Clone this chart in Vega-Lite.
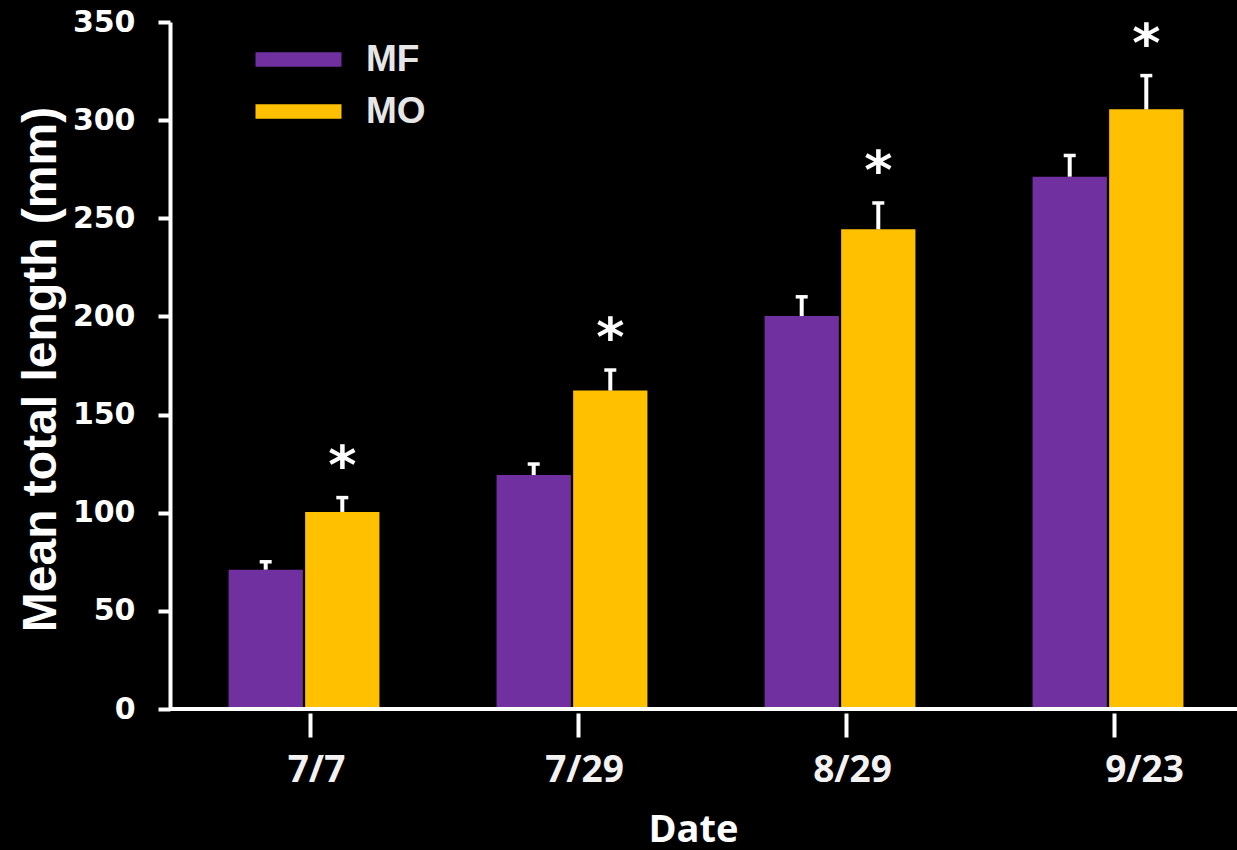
{
  "$schema": "https://vega.github.io/schema/vega-lite/v6.json",
  "width": 1072,
  "height": 687,
  "autosize": {"type": "none"},
  "padding": {"left": 170, "top": 22, "right": 0, "bottom": 141},
  "background": "#000000",
  "config": {"view": {"stroke": null}},
  "data": {
    "values": [
      {"date": "7/7", "group": "MF", "value": 71, "err": 75},
      {"date": "7/7", "group": "MO", "value": 100.4, "err": 107.7, "sig": "*"},
      {"date": "7/29", "group": "MF", "value": 119.2, "err": 124.8},
      {"date": "7/29", "group": "MO", "value": 162.2, "err": 172.7, "sig": "*"},
      {"date": "8/29", "group": "MF", "value": 200.2, "err": 210},
      {"date": "8/29", "group": "MO", "value": 244.4, "err": 257.8, "sig": "*"},
      {"date": "9/23", "group": "MF", "value": 271.2, "err": 282},
      {"date": "9/23", "group": "MO", "value": 305.5, "err": 322.7, "sig": "*"}
    ]
  },
  "layer": [
    {
      "mark": {"type": "bar"},
      "encoding": {
        "x": {
          "field": "date", "type": "nominal", "sort": ["7/7", "7/29", "8/29", "9/23"],
          "scale": {"paddingInner": 0.437, "paddingOuter": 0.2185},
          "axis": {
            "title": "Date", "titleFont": "Open Sans", "titleFontSize": 38, "titleFontWeight": "bold",
            "titleColor": "#ffffff", "titleX": 523, "titleY": 128, "titleBaseline": "alphabetic",
            "titleAnchor": null, "titleAlign": "center",
            "domain": false, "offset": 4, "ticks": true, "tickSize": 24, "tickWidth": 4, "tickColor": "#ffffff",
            "tickOffset": 6,
            "labelFont": "Open Sans", "labelFontSize": 37, "labelFontWeight": "bold", "labelColor": "#f2f2f2",
            "labelPadding": 15, "labelAngle": 0,
            "labelOffset": {"condition": {"test": "datum.value == '9/23'", "value": 30}, "value": 6}
          }
        },
        "xOffset": {"field": "group", "type": "nominal", "scale": {"paddingInner": 0.03}},
        "y": {
          "field": "value", "type": "quantitative",
          "scale": {"domain": [0, 350], "nice": false},
          "axis": {
            "title": "Mean total length (mm)", "titleFont": "Liberation Sans", "titleFontSize": 48,
            "titleFontWeight": "bold", "titleColor": "#ffffff", "titleX": -115, "titleY": 347,
            "titleBaseline": "alphabetic", "titleAngle": -90, "titleAlign": "center", "titleAnchor": null,
            "values": [0, 50, 100, 150, 200, 250, 300, 350],
            "grid": false, "domainColor": "#ffffff", "domainWidth": 4,
            "tickColor": "#ffffff", "tickWidth": 4, "tickSize": 12,
            "labelFont": "DejaVu Sans", "labelFontSize": 30, "labelFontWeight": "bold", "labelColor": "#ffffff",
            "labelPadding": 23
          }
        },
        "color": {
          "field": "group", "type": "nominal",
          "scale": {"domain": ["MF", "MO"], "range": ["#7030A0", "#FFC000"]},
          "legend": {
            "title": null, "orient": "none", "legendX": 110, "legendY": 19, "padding": 0,
            "symbolType": "M-3,-0.51H3V0.51H-3Z", "symbolSize": 822, "symbolStrokeWidth": 0,
            "labelFont": "Liberation Sans", "labelFontSize": 37, "labelFontWeight": "bold",
            "labelColor": "#e6e6e6", "labelOffset": 49, "rowPadding": 14, "symbolOpacity": 1
          }
        }
      }
    },
    {
      "mark": {"type": "rule", "color": "#ffffff", "strokeWidth": 4},
      "encoding": {
        "x": {"field": "date", "type": "nominal", "sort": ["7/7", "7/29", "8/29", "9/23"]},
        "xOffset": {"field": "group", "type": "nominal"},
        "y": {"field": "value", "type": "quantitative"},
        "y2": {"field": "err"}
      }
    },
    {
      "mark": {"type": "tick", "color": "#ffffff", "size": 12, "thickness": 3.5, "orient": "horizontal", "opacity": 1},
      "encoding": {
        "x": {"field": "date", "type": "nominal", "sort": ["7/7", "7/29", "8/29", "9/23"]},
        "xOffset": {"field": "group", "type": "nominal"},
        "y": {"field": "err", "type": "quantitative"}
      }
    },
    {
      "transform": [{"filter": "datum.sig != null"}],
      "mark": {"type": "text", "color": "#ffffff", "font": "DejaVu Sans", "fontSize": 54, "fontWeight": "bold", "baseline": "alphabetic", "dy": -14},
      "encoding": {
        "x": {"field": "date", "type": "nominal", "sort": ["7/7", "7/29", "8/29", "9/23"]},
        "xOffset": {"field": "group", "type": "nominal"},
        "y": {"field": "err", "type": "quantitative"},
        "text": {"field": "sig"}
      }
    },
    {
      "mark": {"type": "rule", "color": "#ffffff", "strokeWidth": 4},
      "encoding": {"y": {"datum": 0}}
    }
  ]
}
